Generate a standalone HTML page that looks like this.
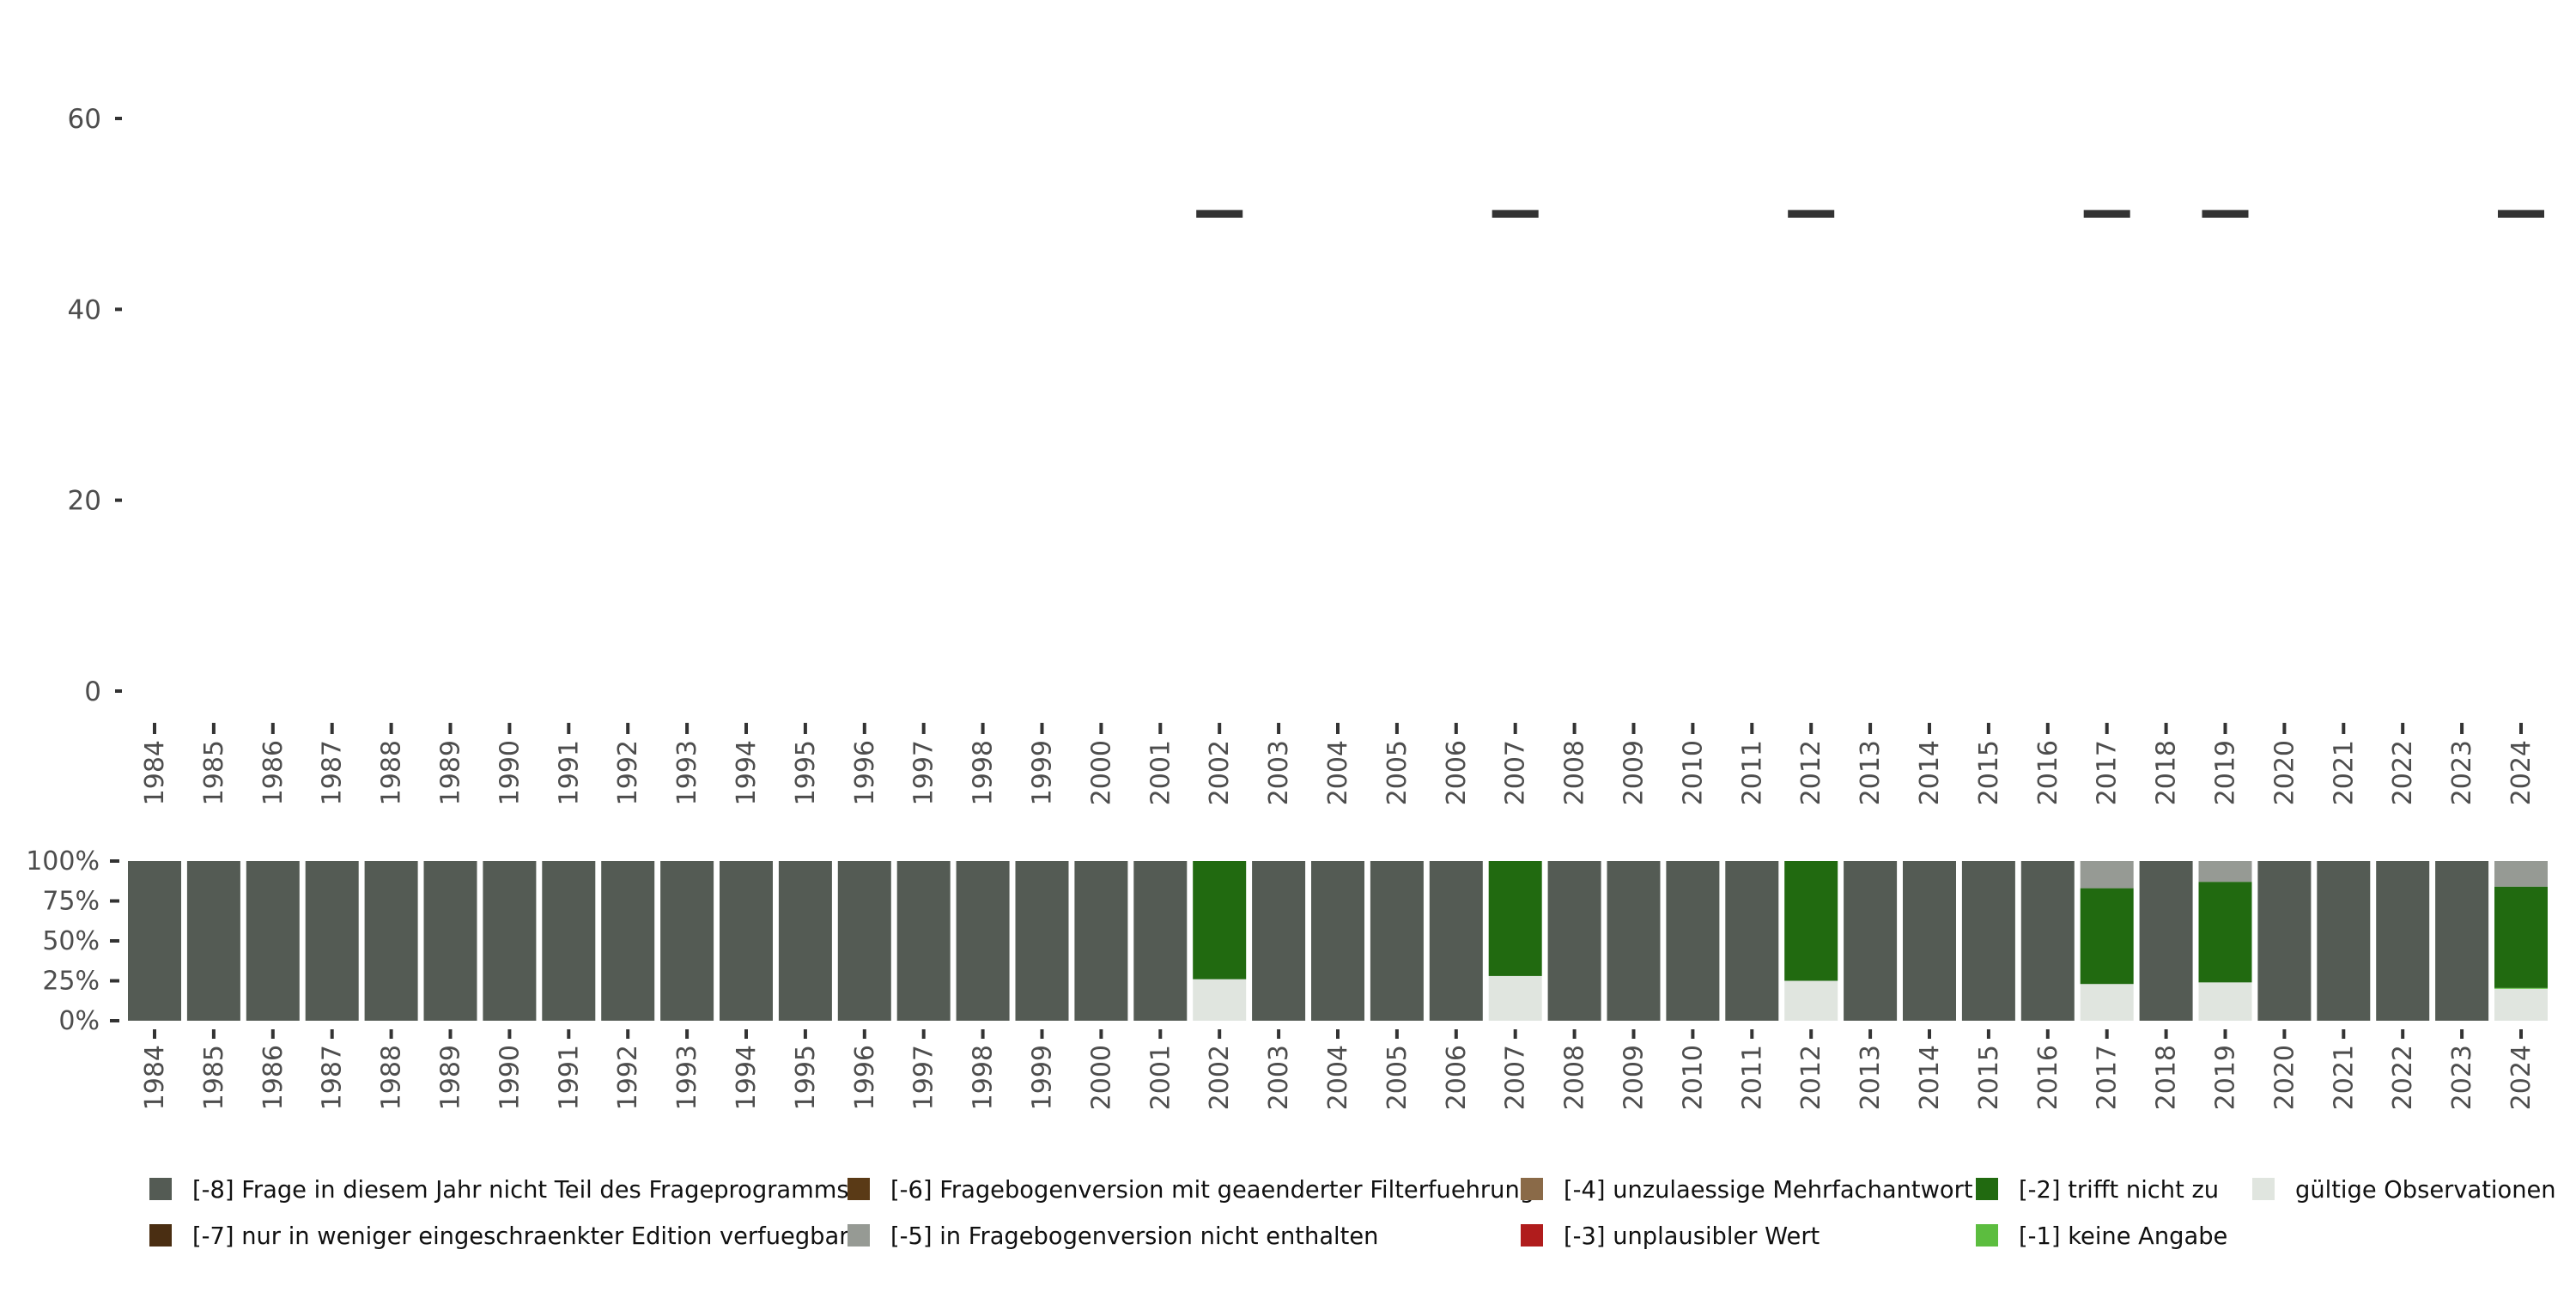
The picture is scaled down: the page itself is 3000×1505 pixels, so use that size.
<!DOCTYPE html>
<html><head><meta charset="utf-8"><style>
body{margin:0;background:#fff;font-family:"Liberation Sans","DejaVu Sans",sans-serif}
svg text{fill:#4d4d4d;font-family:"DejaVu Sans","Liberation Sans",sans-serif}
</style></head><body>
<svg id="c" width="3000" height="1500" xmlns="http://www.w3.org/2000/svg"></svg>
<script>
const years=[1984,1985,1986,1987,1988,1989,1990,1991,1992,1993,1994,1995,1996,1997,1998,1999,2000,2001,2002,2003,2004,2005,2006,2007,2008,2009,2010,2011,2012,2013,2014,2015,2016,2017,2018,2019,2020,2021,2022,2023,2024];
const markerYears=[2002,2007,2012,2017,2019,2024];
const markerValues=[50,50,50,50,50,50];
const upperTicks=[0,20,40,60];
const pctTicks=[0,25,50,75,100];
const pctLabels=["0%","25%","50%","75%","100%"];
const surveyYears=[2002,2007,2012,2017,2019,2024];
const validShare=[26,28,25,23,24,20];
const noAnswerShare=[0,0,0,0,0,0.5];
const notApplyShare=[74,72,75,60,63,63.5];
const notInVersionShare=[0,0,0,17,13,16];
const legendLabels=["[-8] Frage in diesem Jahr nicht Teil des Frageprogramms","[-7] nur in weniger eingeschraenkter Edition verfuegbar","[-6] Fragebogenversion mit geaenderter Filterfuehrung","[-5] in Fragebogenversion nicht enthalten","[-4] unzulaessige Mehrfachantwort","[-3] unplausibler Wert","[-2] trifft nicht zu","[-1] keine Angabe","gültige Observationen"];
const legendColors=["#545b54","#4a2e12","#5a3a16","#969a94","#8a6a48","#b01c1c","#216a10","#5cbd3f","#e0e5df"];

const svg=document.getElementById('c');
const NS="http://www.w3.org/2000/svg";
function mk(t,a,p){const e=document.createElementNS(NS,t);for(const k in a)e.setAttribute(k,a[k]);(p||svg).appendChild(e);return e;}
const x0=180,step=68.9,bw=62;
const xs=i=>x0+i*step;
const yU=v=>805-v*(805-138)/60;
const yL=v=>1189-v*(1189-1003)/100;

upperTicks.forEach(v=>{
  const t=mk('line',{x1:134,x2:142,y1:yU(v),y2:yU(v),stroke:'#333','stroke-width':4});
  
  const l=mk('text',{x:118,y:yU(v)+11,'text-anchor':'end','font-size':31});l.textContent=v;
  
});
years.forEach((yr,i)=>{
  const x=xs(i);
  const t=mk('line',{x1:x,x2:x,y1:842,y2:855,stroke:'#333','stroke-width':4});
  
  const l=mk('text',{x:0,y:0,'text-anchor':'end','font-size':30,transform:`translate(${x+10},862) rotate(-90)`});l.textContent=yr;
  
  const t2=mk('line',{x1:x,x2:x,y1:1199,y2:1210,stroke:'#333','stroke-width':4});
  
  const l2=mk('text',{x:0,y:0,'text-anchor':'end','font-size':30,transform:`translate(${x+10},1217) rotate(-90)`});l2.textContent=yr;
  
});
markerYears.forEach((yr,k)=>{
  const x=xs(years.indexOf(yr));
  const m=mk('rect',{x:x-27,y:yU(markerValues[k])-4.5,width:54,height:9,fill:'#333'});
  
});
pctTicks.forEach((v,k)=>{
  const t=mk('line',{x1:128,x2:139,y1:yL(v),y2:yL(v),stroke:'#333','stroke-width':4});
  
  const l=mk('text',{x:116,y:yL(v)+10,'text-anchor':'end','font-size':30});l.textContent=pctLabels[k];
  
});
years.forEach((yr,i)=>{
  const x=xs(i)-bw/2;
  const k=surveyYears.indexOf(yr);
  let segs;
  if(k<0) segs=[[100,'#545b54']];
  else segs=[[validShare[k],'#e0e5df'],[noAnswerShare[k],'#5cbd3f'],[notApplyShare[k],'#216a10'],[notInVersionShare[k],'#969a94']];
  let acc=0;
  segs.forEach(([v,c])=>{
    if(v<=0)return;
    const r=mk('rect',{x:x,y:yL(acc+v),width:bw,height:yL(acc)-yL(acc+v),fill:c});
    
    acc+=v;
  });
});
const lx=[174,987,1771,2301,2623],ly=[1385,1439];
legendLabels.forEach((lab,i)=>{
  const col=Math.floor(i/2),row=i%2;
  const x=lx[col],y=ly[row];
  const s=mk('rect',{x:x,y:y-13,width:26,height:26,fill:legendColors[i]});
  
  const t=mk('text',{x:x+50,y:y+10,'font-size':27.3});t.textContent=lab;t.style.fill='#111';
  
});
</script>
</body></html>
